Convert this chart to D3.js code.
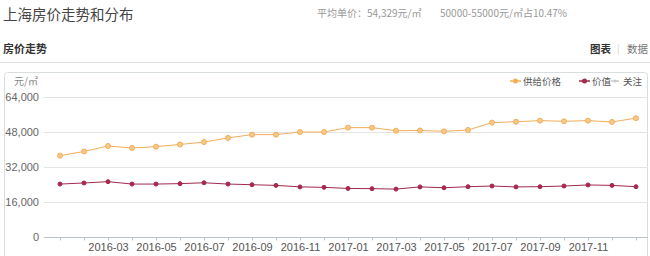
<!DOCTYPE html>
<html>
<head>
<meta charset="utf-8">
<script src="https://cdn.jsdelivr.net/npm/d3@7"></script>
<style>
  body { margin: 0; background: #fff; font-family: "Noto Sans CJK SC", "Noto Sans", sans-serif; }
  svg { display: block; }
</style>
</head>
<body>
<svg id="chart"></svg>
<script>
// months on the x axis (one point per month)
const months = ["2016-01","2016-02","2016-03","2016-04","2016-05","2016-06","2016-07","2016-08","2016-09","2016-10","2016-11","2016-12",
  "2017-01","2017-02","2017-03","2017-04","2017-05","2017-06","2017-07","2017-08","2017-09","2017-10","2017-11","2017-12","2018-01"];

// 供给价格 (supply price)
const supplyPrice = [37200, 39100, 41600, 40700, 41300, 42300, 43400, 45300, 46800, 46800, 48000, 48000,
  50000, 50000, 48600, 48700, 48300, 48900, 52300, 52700, 53200, 52900, 53200, 52600, 54329];

// 价值 (value)
const valuePrice = [24200, 24700, 25300, 24200, 24200, 24400, 24800, 24200, 23900, 23600, 22900, 22700,
  22200, 22100, 21900, 22900, 22500, 23000, 23300, 22900, 23000, 23300, 23800, 23600, 23000];

const yTicks = [0, 16000, 32000, 48000, 64000];

const legendItems = [
  { name: "供给价格", color: "#f3ae5a" },
  { name: "价值", color: "#a3294d" },
  { name: "关注", color: "#c8c8c8" }
];

class PriceTrend {
    constructor(_config) {
        this.config = {
            parentElement: _config.parentElement,
            containerWidth: _config.containerWidth || 650,
            containerHeight: _config.containerHeight || 256
        }
        this.initVis();
    }

    initVis() {
        let vis = this;

        vis.svg = d3.select(vis.config.parentElement)
            .attr('width', vis.config.containerWidth)
            .attr('height', vis.config.containerHeight);

        // page header
        vis.svg.append('text')
            .attr('x', 3).attr('y', 20)
            .attr('font-size', '14.5px')
            .attr('fill', '#444')
            .text('上海房价走势和分布');

        vis.svg.append('text')
            .attr('x', 317).attr('y', 17)
            .attr('font-size', '10px')
            .attr('fill', '#999')
            .text('平均单价：54,329元/㎡');

        vis.svg.append('text')
            .attr('x', 440).attr('y', 17)
            .attr('font-size', '10px')
            .attr('fill', '#999')
            .text('50000-55000元/㎡占10.47%');

        vis.svg.append('text')
            .attr('x', 3).attr('y', 53)
            .attr('font-size', '11px')
            .attr('font-weight', 'bold')
            .attr('fill', '#333')
            .text('房价走势');

        vis.svg.append('text')
            .attr('x', 590).attr('y', 53)
            .attr('font-size', '10.5px')
            .attr('font-weight', 'bold')
            .attr('fill', '#333')
            .text('图表');
        vis.svg.append('text')
            .attr('x', 617).attr('y', 52)
            .attr('font-size', '9px')
            .attr('fill', '#ccc')
            .text('|');
        vis.svg.append('text')
            .attr('x', 627).attr('y', 53)
            .attr('font-size', '10.5px')
            .attr('fill', '#777')
            .text('数据');

        vis.svg.append('line')
            .attr('x1', 0).attr('x2', 650)
            .attr('y1', 62.5).attr('y2', 62.5)
            .attr('stroke', '#e2e2e2');

        // chart box
        vis.svg.append('rect')
            .attr('x', 4.5).attr('y', 72.5)
            .attr('width', 643).attr('height', 200)
            .attr('rx', 3)
            .attr('fill', '#fff')
            .attr('stroke', '#d8dde0');

        vis.xScale = d3.scalePoint()
            .domain(months)
            .range([60, 636]);

        vis.yScale = d3.scaleLinear()
            .domain([0, 64000])
            .range([237, 97]);

        vis.chart = vis.svg.append('g');

        // grid lines
        vis.chart.append('g')
            .selectAll('line')
            .data(yTicks.filter(d => d > 0))
            .join('line')
            .attr('x1', 44).attr('x2', 648)
            .attr('y1', d => Math.round(vis.yScale(d)) + 0.5)
            .attr('y2', d => Math.round(vis.yScale(d)) + 0.5)
            .attr('stroke', '#e4e4e4');

        // y axis labels
        vis.chart.append('g')
            .selectAll('text')
            .data(yTicks)
            .join('text')
            .attr('x', 39)
            .attr('y', d => vis.yScale(d) + 4)
            .attr('text-anchor', 'end')
            .attr('font-family', 'Arial, "Liberation Sans", sans-serif')
            .attr('font-size', '11px')
            .attr('fill', '#666')
            .text(d => d3.format(',')(d));

        vis.svg.append('text')
            .attr('x', 14).attr('y', 85)
            .attr('font-size', '10px')
            .attr('fill', '#888')
            .text('元/㎡');

        // x axis
        vis.xAxis = d3.axisBottom(vis.xScale)
            .tickSize(3)
            .tickSizeOuter(0)
            .tickFormat((d, i) => (i % 2 === 0 && i > 0 && i < months.length - 1) ? d : '');

        vis.xAxisG = vis.chart.append('g')
            .attr('transform', `translate(0,${Math.round(vis.yScale(0)) + 0.5})`)
            .call(vis.xAxis);

        vis.xAxisG.select('.domain').remove();
        vis.xAxisG.append('line')
            .attr('x1', 44).attr('x2', 648)
            .attr('stroke', '#b9c4cc');
        vis.xAxisG.selectAll('.tick line').attr('stroke', '#b9c4cc');
        vis.xAxisG.selectAll('.tick text')
            .attr('dy', '0.71em')
            .attr('y', 6)
            .attr('font-family', 'Arial, "Liberation Sans", sans-serif')
            .attr('font-size', '11px')
            .attr('fill', '#555');

        vis.renderVis();
    }

    renderVis() {
        let vis = this;

        const series = [
            { values: supplyPrice, color: legendItems[0].color, r: 2.5, fill: '#f7c88a' },
            { values: valuePrice, color: legendItems[1].color, r: 2, fill: legendItems[1].color }
        ];

        const line = d3.line()
            .x((d, i) => vis.xScale(months[i]))
            .y(d => vis.yScale(d));

        series.forEach(s => {
            vis.chart.append('path')
                .datum(s.values)
                .attr('fill', 'none')
                .attr('stroke', s.color)
                .attr('stroke-width', 1)
                .attr('d', line);

            vis.chart.append('g')
                .selectAll('circle')
                .data(s.values)
                .join('circle')
                .attr('cx', (d, i) => vis.xScale(months[i]))
                .attr('cy', d => vis.yScale(d))
                .attr('r', s.r)
                .attr('fill', s.fill)
                .attr('stroke', s.color)
                .attr('stroke-width', 1);
        });

        // legend
        const markerX = [510, 579, 611];
        const textX = [523, 592, 623];
        const legend = vis.svg.append('g')
            .selectAll('g')
            .data(legendItems)
            .join('g');

        legend.append('line')
            .attr('x1', (d, i) => markerX[i])
            .attr('x2', (d, i) => markerX[i] + (i === 2 ? 8 : 11))
            .attr('y1', 81).attr('y2', 81)
            .attr('stroke', d => d.color)
            .attr('stroke-width', 1.5);
        legend.append('circle')
            .attr('cx', (d, i) => markerX[i] + (i === 2 ? 4 : 5.5))
            .attr('cy', 81)
            .attr('r', (d, i) => i === 2 ? 1.5 : 2.5)
            .attr('fill', d => d.color);
        legend.append('text')
            .attr('x', (d, i) => textX[i])
            .attr('y', 84.5)
            .attr('font-size', '9.5px')
            .attr('fill', '#555')
            .text(d => d.name);
    }
}

new PriceTrend({ parentElement: '#chart' });
</script>
</body>
</html>
